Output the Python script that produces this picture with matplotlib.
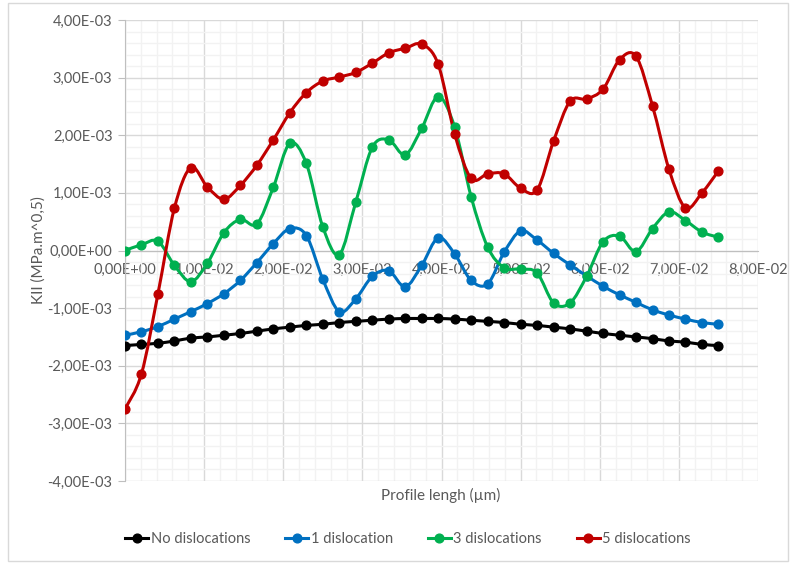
import matplotlib
matplotlib.use("Agg")
import matplotlib.pyplot as plt
import numpy as np
from matplotlib.path import Path
from matplotlib.patches import PathPatch, Rectangle
from matplotlib.lines import Line2D
from matplotlib.ticker import MultipleLocator, FuncFormatter

plt.rcParams["font.family"] = ["Lato", "DejaVu Sans"]

# profile positions (37 points, 0 .. 0.075)
x = np.linspace(0, 0.075, 37)

no_disl = [-1.65, -1.63, -1.61, -1.57, -1.52, -1.50, -1.47, -1.44, -1.40, -1.36,
           -1.33, -1.30, -1.28, -1.25, -1.23, -1.21, -1.19, -1.18, -1.18, -1.18,
           -1.19, -1.21, -1.23, -1.25, -1.28, -1.30, -1.33, -1.36, -1.40, -1.44,
           -1.47, -1.50, -1.53, -1.57, -1.59, -1.63, -1.65]
one_disl = [-1.47, -1.41, -1.32, -1.19, -1.06, -0.92, -0.75, -0.52, -0.21, 0.12,
            0.38, 0.26, -0.50, -1.06, -0.84, -0.45, -0.35, -0.63, -0.26, 0.22,
            -0.06, -0.52, -0.58, -0.03, 0.34, 0.18, -0.05, -0.25, -0.44, -0.62,
            -0.77, -0.90, -1.03, -1.12, -1.19, -1.25, -1.28]
three_disl = [0.00, 0.10, 0.16, -0.26, -0.54, -0.22, 0.31, 0.54, 0.46, 1.10,
              1.86, 1.51, 0.41, -0.07, 0.84, 1.79, 1.92, 1.66, 2.12, 2.67,
              2.14, 0.93, 0.06, -0.30, -0.32, -0.39, -0.91, -0.91, -0.45, 0.15,
              0.25, -0.02, 0.38, 0.67, 0.52, 0.32, 0.23]
five_disl = [-2.75, -2.14, -0.75, 0.74, 1.44, 1.10, 0.89, 1.13, 1.48, 1.92,
             2.39, 2.74, 2.94, 3.01, 3.09, 3.25, 3.43, 3.51, 3.58, 3.23,
             2.02, 1.25, 1.33, 1.33, 1.08, 1.05, 1.90, 2.59, 2.63, 2.80,
             3.31, 3.37, 2.51, 1.41, 0.74, 1.00, 1.38]

series = [
    ("No dislocations", no_disl, "#000000"),
    ("1 dislocation", one_disl, "#0070C0"),
    ("3 dislocations", three_disl, "#00B050"),
    ("5 dislocations", five_disl, "#C00000"),
]


def smooth_path(xs, ys):
    """Excel-like smoothed line: cubic Bezier through every point."""
    p = np.column_stack([xs, ys])
    verts = [p[0]]
    codes = [Path.MOVETO]
    n = len(p)
    for i in range(n - 1):
        p0 = p[i - 1] if i > 0 else p[i]
        p3 = p[i + 2] if i + 2 < n else p[i + 1]
        c1 = p[i] + (p[i + 1] - p0) / 6
        c2 = p[i + 1] - (p3 - p[i]) / 6
        verts += [c1, c2, p[i + 1]]
        codes += [Path.CURVE4] * 3
    return Path(verts, codes)


fig = plt.figure(figsize=(7.9, 5.63), dpi=100)
ax = fig.add_axes([125 / 790, 1 - 481 / 563, 633 / 790, 461 / 563])

grey = "#595959"
handles = []
for label, vals, col in series:
    y = np.array(vals) * 1e-3
    ax.add_patch(PathPatch(smooth_path(x, y), fill=False, edgecolor=col,
                           lw=2.2, zorder=3, capstyle="round", joinstyle="round"))
    ax.plot(x, y, "o", color=col, ms=6.3, zorder=4)
    handles.append(Line2D([], [], color=col, lw=2.2, marker="o", ms=6.3))

ax.set_xlim(0, 0.08)
ax.set_ylim(-4e-3, 4e-3)
ax.xaxis.set_major_locator(MultipleLocator(0.01))
ax.xaxis.set_minor_locator(MultipleLocator(0.002))
ax.yaxis.set_major_locator(MultipleLocator(1e-3))
ax.yaxis.set_minor_locator(MultipleLocator(2e-4))
ax.grid(which="major", color="#D9D9D9", lw=1.0, zorder=0)
ax.grid(which="minor", color="#F2F2F2", lw=1.0, zorder=0)
ax.set_axisbelow(True)


def sci_comma(v, pos):
    return ("%.2E" % v).replace(".", ",").replace("-0,00", "0,00")


ax.xaxis.set_major_formatter(FuncFormatter(sci_comma))
ax.yaxis.set_major_formatter(FuncFormatter(sci_comma))

for s in ["top", "right"]:
    ax.spines[s].set_visible(False)
ax.spines["bottom"].set_position(("data", 0))
ax.spines["bottom"].set_color("#BFBFBF")
ax.spines["left"].set_color("#BFBFBF")
ax.tick_params(axis="y", which="major", length=5, color="#BFBFBF",
               labelsize=10.5, labelcolor=grey, pad=4)
ax.tick_params(axis="x", which="major", length=0, labelsize=10.5,
               labelcolor=grey, pad=9)
ax.tick_params(which="minor", length=0)

ax.set_ylabel("KII (MPa.m^0,5)", fontsize=11, color=grey, labelpad=1)
fig.text(441 / 790, 1 - 495 / 563, "Profile lengh (µm)", fontsize=11,
         color=grey, ha="center", va="center")

fig.legend(handles, [s[0] for s in series], loc="center",
           bbox_to_anchor=(408 / 790, 1 - 539 / 563), ncol=4, frameon=False,
           fontsize=10.5, labelcolor=grey, handlelength=1.6, handletextpad=0.15,
           columnspacing=2.4)

fig.patches.append(Rectangle((8 / 790, 2 / 563), 780 / 790, 558 / 563,
                             transform=fig.transFigure, fill=False,
                             edgecolor="#D9D9D9", lw=1))

fig.savefig("out.png", dpi=100)
